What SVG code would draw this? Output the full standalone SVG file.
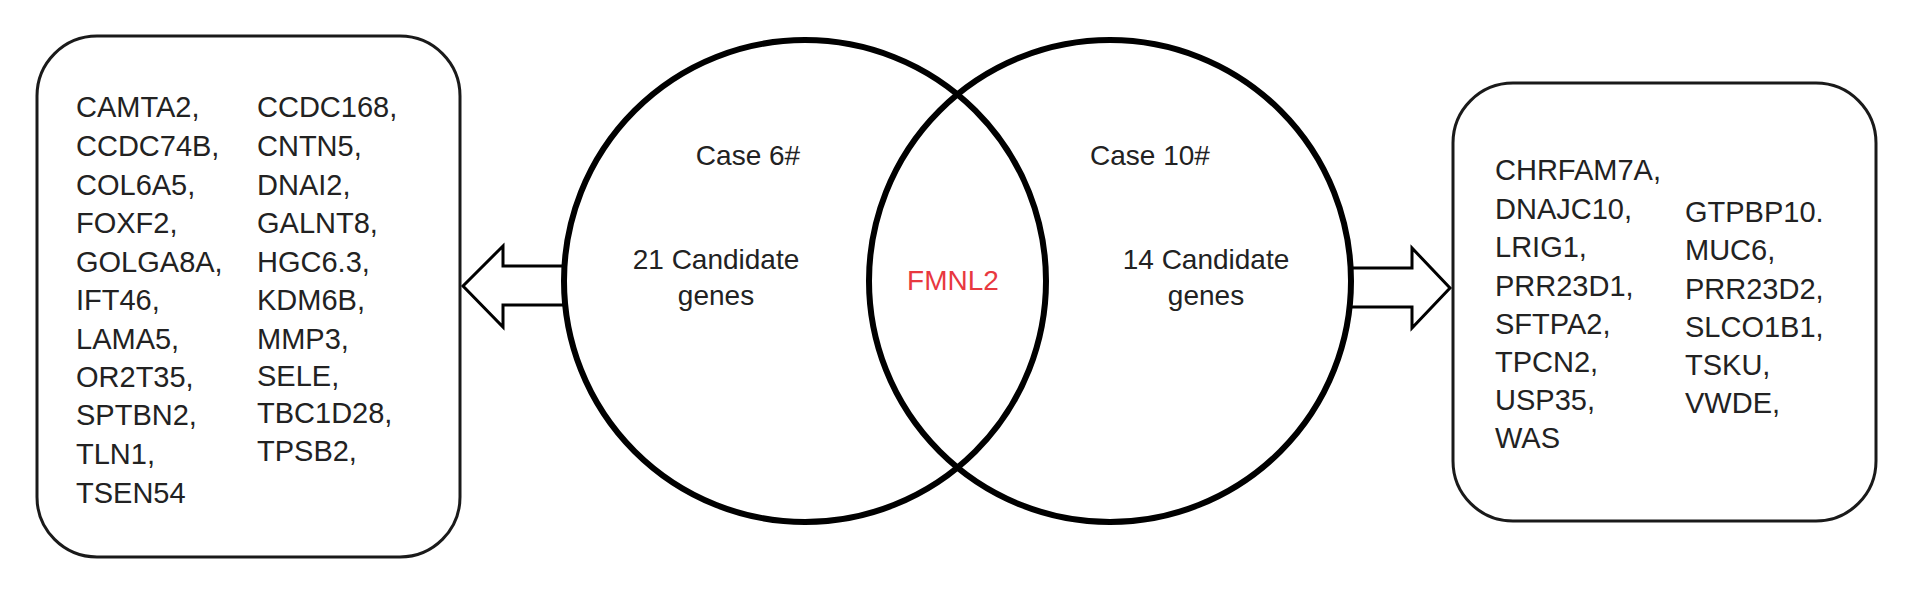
<svg xmlns="http://www.w3.org/2000/svg" width="1913" height="596" viewBox="0 0 1913 596">
<style>
.box{fill:#fff;stroke:#1a1a1a;stroke-width:3}
.venn{fill:none;stroke:#000;stroke-width:6}
.arrow{fill:#fff;stroke:#000;stroke-width:3;stroke-linejoin:miter}
.g{font-family:"Liberation Sans",Arial,sans-serif;font-size:29px;fill:#222}
.c{font-family:"Liberation Sans",Arial,sans-serif;font-size:28px;fill:#222;text-anchor:middle}
.red{fill:#e8383f}
</style>
<rect width="1913" height="596" fill="#fff"/>
<g id="connectors">
<polyline class="arrow" points="565,266 503,266 503,246 463,286 503,327 503,305 565,305"/>
<polyline class="arrow" points="1348,268 1412,268 1412,248 1450,288 1412,328 1412,307 1348,307"/>
</g>
<g id="left-box">
<rect class="box" x="37" y="36" width="423" height="521" rx="60" ry="60"/>
<g class="g">
<text x="76" y="117">CAMTA2,</text>
<text x="76" y="156">CCDC74B,</text>
<text x="76" y="195">COL6A5,</text>
<text x="76" y="233">FOXF2,</text>
<text x="76" y="272">GOLGA8A,</text>
<text x="76" y="310">IFT46,</text>
<text x="76" y="349">LAMA5,</text>
<text x="76" y="387">OR2T35,</text>
<text x="76" y="425">SPTBN2,</text>
<text x="76" y="464">TLN1,</text>
<text x="76" y="503">TSEN54</text>
<text x="257" y="117">CCDC168,</text>
<text x="257" y="156">CNTN5,</text>
<text x="257" y="195">DNAI2,</text>
<text x="257" y="233">GALNT8,</text>
<text x="257" y="272">HGC6.3,</text>
<text x="257" y="310">KDM6B,</text>
<text x="257" y="349">MMP3,</text>
<text x="257" y="386">SELE,</text>
<text x="257" y="423">TBC1D28,</text>
<text x="257" y="461">TPSB2,</text>
</g>
</g>
<g id="case6">
<circle class="venn" cx="805" cy="281" r="241"/>
<text class="c" x="748" y="165">Case 6#</text>
<text class="c" x="716" y="269">21 Candidate</text>
<text class="c" x="716" y="305">genes</text>
</g>
<g id="case10">
<circle class="venn" cx="1110" cy="281" r="241"/>
<text class="c" x="1150" y="165">Case 10#</text>
<text class="c" x="1206" y="269">14 Candidate</text>
<text class="c" x="1206" y="305">genes</text>
</g>
<g id="overlap">
<text class="c red" x="953" y="290">FMNL2</text>
</g>
<g id="right-box">
<rect class="box" x="1453" y="83" width="423" height="438" rx="60" ry="60"/>
<g class="g">
<text x="1495" y="180">CHRFAM7A,</text>
<text x="1495" y="219">DNAJC10,</text>
<text x="1495" y="257">LRIG1,</text>
<text x="1495" y="296">PRR23D1,</text>
<text x="1495" y="334">SFTPA2,</text>
<text x="1495" y="372">TPCN2,</text>
<text x="1495" y="410">USP35,</text>
<text x="1495" y="448">WAS</text>
<text x="1685" y="222">GTPBP10.</text>
<text x="1685" y="260">MUC6,</text>
<text x="1685" y="299">PRR23D2,</text>
<text x="1685" y="337">SLCO1B1,</text>
<text x="1685" y="375">TSKU,</text>
<text x="1685" y="413">VWDE,</text>
</g>
</g>
</svg>
